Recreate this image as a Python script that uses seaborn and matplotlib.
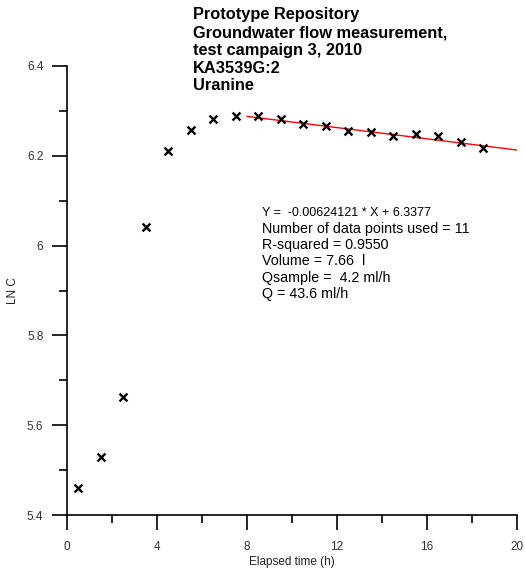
import numpy as np
import pandas as pd
import matplotlib
matplotlib.use("Agg")
import matplotlib.pyplot as plt
import seaborn as sns
from matplotlib.ticker import MultipleLocator

# ---- data ----
elapsed_h = [0.5, 1.5, 2.5, 3.5, 4.5, 5.5, 6.5, 7.5, 8.5, 9.5, 10.5, 11.5,
             12.5, 13.5, 14.5, 15.5, 16.5, 17.5, 18.5]
ln_c = [5.460, 5.530, 5.663, 6.041, 6.211, 6.257, 6.283, 6.289, 6.289, 6.282,
        6.271, 6.267, 6.255, 6.254, 6.244, 6.248, 6.244, 6.231, 6.218]
fit_slope = -0.00624121
fit_intercept = 6.3377
fit_x_range = [8.0, 20.0]
x_ticks = [0, 4, 8, 12, 16, 20]
y_ticks = [5.4, 5.6, 5.8, 6.0, 6.2, 6.4]
y_tick_labels = ["5.4", "5.6", "5.8", "6", "6.2", "6.4"]
title_lines = ["Prototype Repository", "Groundwater flow measurement,",
               "test campaign 3, 2010", "KA3539G:2", "Uranine"]
info_first = "Y =  -0.00624121 * X + 6.3377"
info_lines = ["Number of data points used = 11", "R-squared = 0.9550",
              "Volume = 7.66  l", "Qsample =  4.2 ml/h", "Q = 43.6 ml/h"]

sns.set_style("ticks")
plt.rcParams['font.family'] = ['Liberation Sans', 'DejaVu Sans']

W, H = 525, 572
fig = plt.figure(figsize=(W / 100, H / 100), dpi=100)
ax = fig.add_axes([67 / W, 1 - 515 / H, (517 - 67) / W, (515 - 66) / H])

df = pd.DataFrame({"t": elapsed_h, "lnc": ln_c})
fit_df = pd.DataFrame({"t": fit_x_range,
                       "lnc": [fit_slope * x + fit_intercept for x in fit_x_range]})

sns.lineplot(data=fit_df, x="t", y="lnc", ax=ax, color="red", linewidth=1.0)
sns.scatterplot(data=df, x="t", y="lnc", ax=ax, marker="x", color="black",
                s=32, linewidth=1.7, zorder=5)

ax.set_xlim(0, 20)
ax.set_ylim(5.4, 6.4)
ax.set_xticks(x_ticks)
ax.set_xticklabels([str(v) for v in x_ticks])
ax.set_yticks(y_ticks)
ax.set_yticklabels(y_tick_labels)
ax.xaxis.set_minor_locator(MultipleLocator(2))
ax.yaxis.set_minor_locator(MultipleLocator(0.1))
ax.tick_params(which="major", direction="out", length=11, width=1.2,
               color="black", labelsize=8.5, labelcolor="#333333", pad=6)
ax.tick_params(which="minor", direction="out", length=5.5, width=1.2,
               color="black")
ax.tick_params(axis="x", which="major", pad=8)
sns.despine(ax=ax)
for sp in ("left", "bottom"):
    ax.spines[sp].set_linewidth(1.2)
    ax.spines[sp].set_color("black")
ax.set_xlabel("Elapsed time (h)", fontsize=8.5, labelpad=2, color="#222222")
ax.set_ylabel("LN C", fontsize=8.5, labelpad=6, color="#222222")
ax.set_facecolor("white")
fig.patch.set_facecolor("white")

# title
for i, line in enumerate(title_lines):
    fig.text(193 / W, 1 - (15 + i * 17.7) / H, line, fontsize=11.8,
             fontweight="bold", ha="left", va="center", color="black")

# annotation
fig.text(262 / W, 1 - 213 / H, info_first, fontsize=9, ha="left",
         va="center", color="black")
for i, line in enumerate(info_lines):
    fig.text(262 / W, 1 - (228.5 + i * 16.4) / H, line, fontsize=10.3,
             ha="left", va="center", color="black")

fig.savefig("out.png", dpi=100)
